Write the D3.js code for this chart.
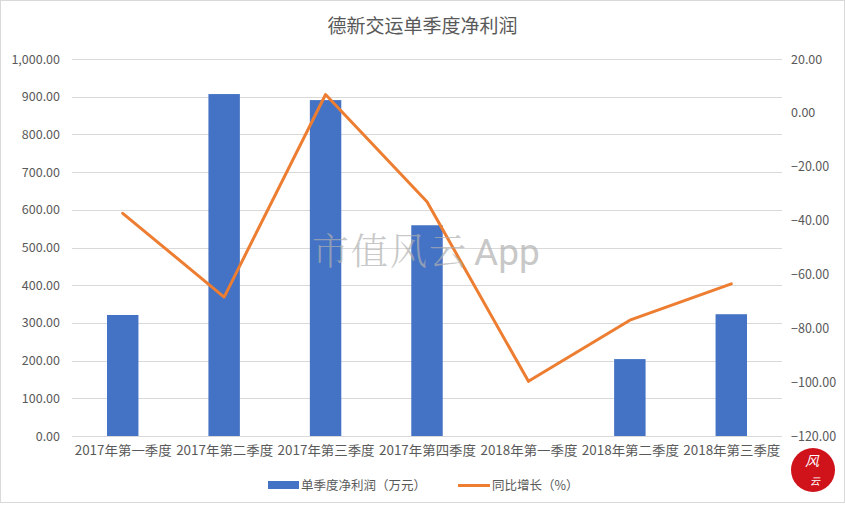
<!DOCTYPE html>
<html>
<head>
<meta charset="utf-8">
<script src="https://cdn.jsdelivr.net/npm/d3@7"></script>
<style>
  body { margin: 0; background: #fff; }
  svg { display: block; }
</style>
</head>
<body>
<div id="chart"></div>
<script>
(function () {

	'use strict';

	var categories = ['2017年第一季度', '2017年第二季度', '2017年第三季度', '2017年第四季度',
		'2018年第一季度', '2018年第二季度', '2018年第三季度'];
	var profit = [321, 907, 891, 559, 0, 204, 323];
	var growth = [-37.3, -68.4, 6.8, -33.0, -99.7, -77.0, -63.5];
	var leftTicks = [0, 100, 200, 300, 400, 500, 600, 700, 800, 900, 1000];
	var rightTicks = [-120, -100, -80, -60, -40, -20, 0, 20];

	var width = 845;
	var height = 508;
	var margin = { top: 59, right: 63, bottom: 72, left: 72 };
	var font = '"Noto Sans CJK SC", "Microsoft YaHei", sans-serif';
	var textColor = '#595959';

	var svg = d3.select('#chart')
		.append('svg')
		.attr('width', width)
		.attr('height', height)
		.style('font-family', font);

	// outer border
	svg.append('rect')
		.attr('x', 0.5).attr('y', 0.5)
		.attr('width', width - 1).attr('height', height - 6)
		.attr('fill', '#fff')
		.attr('stroke', '#d9d9d9');

	var x = d3.scaleBand()
		.domain(categories)
		.range([margin.left, width - margin.right])
		.paddingInner(0.69)
		.paddingOuter(0.345);

	var xLine = d3.scalePoint()
		.domain(categories)
		.range([margin.left, width - margin.right])
		.padding(0.5);

	var yLeft = d3.scaleLinear()
		.domain([0, 1000])
		.range([height - margin.bottom, margin.top]);

	var yRight = d3.scaleLinear()
		.domain([-120, 20])
		.range([height - margin.bottom, margin.top]);

	var fmt = d3.format(',.2f');

	// gridlines
	svg.append('g')
		.selectAll('line')
		.data(leftTicks)
		.enter()
		.append('line')
		.attr('x1', margin.left)
		.attr('x2', width - margin.right)
		.attr('y1', function (d) { return Math.round(yLeft(d)) + 0.5; })
		.attr('y2', function (d) { return Math.round(yLeft(d)) + 0.5; })
		.attr('stroke', '#d9d9d9')
		.attr('stroke-width', 1);

	// left axis labels
	var leftAxis = d3.axisLeft(yLeft).tickValues(leftTicks).tickFormat(fmt).tickSize(0).tickPadding(12);
	svg.append('g')
		.attr('transform', 'translate(' + margin.left + ',0)')
		.call(leftAxis)
		.call(function (g) { g.select('.domain').remove(); })
		.selectAll('text')
		.attr('fill', textColor)
		.style('font-size', '12.5px')
		.style('font-family', font);

	// right axis labels
	var rightAxis = d3.axisRight(yRight).tickValues(rightTicks).tickFormat(fmt).tickSize(0).tickPadding(9);
	svg.append('g')
		.attr('transform', 'translate(' + (width - margin.right) + ',0)')
		.call(rightAxis)
		.call(function (g) { g.select('.domain').remove(); })
		.selectAll('text')
		.attr('fill', textColor)
		.style('font-size', '12.5px')
		.style('font-family', font);

	// bars
	svg.append('g')
		.selectAll('rect')
		.data(profit)
		.enter()
		.append('rect')
		.attr('x', function (d, i) { return x(categories[i]); })
		.attr('y', function (d) { return yLeft(d); })
		.attr('width', x.bandwidth())
		.attr('height', function (d) { return yLeft(0) - yLeft(d); })
		.attr('fill', '#4472c4');

	// bottom axis
	var bottomAxis = d3.axisBottom(xLine).tickSize(0).tickPadding(10);
	svg.append('g')
		.attr('transform', 'translate(0,' + (height - margin.bottom) + ')')
		.call(bottomAxis)
		.call(function (g) { g.select('.domain').remove(); })
		.selectAll('text')
		.attr('fill', textColor)
		.style('font-size', '13px')
		.style('font-family', font)
		.attr('textLength', 97)
		.attr('lengthAdjust', 'spacingAndGlyphs');

	// growth line
	var line = d3.line()
		.x(function (d, i) { return xLine(categories[i]); })
		.y(function (d) { return yRight(d); });

	svg.append('path')
		.datum(growth)
		.attr('d', line)
		.attr('fill', 'none')
		.attr('stroke', '#ed7d31')
		.attr('stroke-width', 3)
		.attr('stroke-linejoin', 'round')
		.attr('stroke-linecap', 'round');

	// watermark
	var wm = svg.append('text')
		.attr('x', 312)
		.attr('y', 265)
		.attr('fill', '#b0b0b0')
		.attr('fill-opacity', 0.7)
		.style('font-size', '37px');
	wm.append('tspan')
		.style('font-family', '"Noto Serif CJK SC", "Noto Sans CJK SC", serif')
		.style('font-weight', 300)
		.style('letter-spacing', '2px')
		.text('市值风云');
	wm.append('tspan')
		.attr('dx', 6)
		.style('font-family', 'Roboto, sans-serif')
		.text('App');

	// title
	svg.append('text')
		.attr('x', width / 2)
		.attr('y', 33)
		.attr('text-anchor', 'middle')
		.attr('fill', textColor)
		.style('font-size', '19px')
		.text('德新交运单季度净利润');

	// legend
	var legend = svg.append('g').style('font-size', '12.5px');
	legend.append('rect')
		.attr('x', 268).attr('y', 481)
		.attr('width', 31).attr('height', 8)
		.attr('fill', '#4472c4');
	legend.append('text')
		.attr('x', 301).attr('y', 490)
		.attr('fill', textColor)
		.text('单季度净利润（万元）');
	legend.append('line')
		.attr('x1', 458).attr('x2', 490)
		.attr('y1', 485.5).attr('y2', 485.5)
		.attr('stroke', '#ed7d31')
		.attr('stroke-width', 3);
	legend.append('text')
		.attr('x', 492).attr('y', 490)
		.attr('fill', textColor)
		.text('同比增长（%）');

	// logo badge
	svg.append('circle')
		.attr('cx', 813).attr('cy', 470)
		.attr('r', 22)
		.attr('fill', '#d0121b');
	svg.append('text')
		.attr('x', 812).attr('y', 466)
		.attr('text-anchor', 'middle')
		.attr('fill', '#fff')
		.style('font-size', '14px')
		.style('font-style', 'italic')
		.text('风');
	svg.append('text')
		.attr('x', 815).attr('y', 485)
		.attr('text-anchor', 'middle')
		.attr('fill', '#fff')
		.style('font-size', '10px')
		.style('font-style', 'italic')
		.text('云');

})();
</script>
</body>
</html>
